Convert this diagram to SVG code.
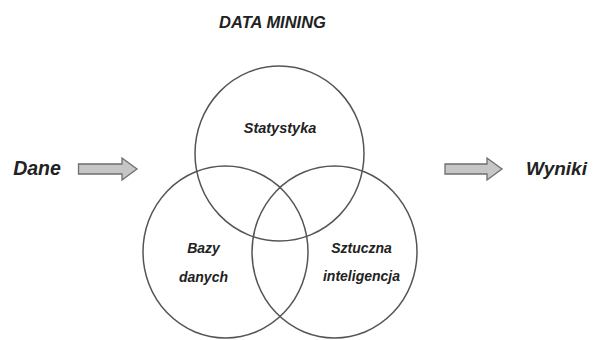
<svg xmlns="http://www.w3.org/2000/svg" width="593" height="340" viewBox="0 0 593 340">
  <style>
    .lbl { font-family: "Liberation Sans", Arial, sans-serif; font-weight: bold; font-style: italic; fill: #222; text-anchor: middle; }
    .set { fill: none; stroke: #555; stroke-width: 1.5; }
    .blk { fill: #c6c6c6; stroke: #6e6e6e; stroke-width: 1.3; stroke-linejoin: miter; }
  </style>
  <rect width="593" height="340" fill="#fff"/>
  <g id="title">
    <text class="lbl" x="272.5" y="28" font-size="16.5">DATA MINING</text>
  </g>
  <g id="dane">
    <text class="lbl" x="37" y="175" font-size="19.5">Dane</text>
  </g>
  <g id="wyniki">
    <text class="lbl" x="556.5" y="175" font-size="19">Wyniki</text>
  </g>
  <g id="statystyka">
    <ellipse class="set" cx="279.5" cy="153.5" rx="84.5" ry="87.5"/>
    <text class="lbl" x="280" y="133" font-size="14.5">Statystyka</text>
  </g>
  <g id="bazy-danych">
    <ellipse class="set" cx="225.5" cy="252" rx="82.5" ry="86"/>
    <text class="lbl" x="203.5" y="253" font-size="14">Bazy</text>
    <text class="lbl" x="203.5" y="281.5" font-size="14">danych</text>
  </g>
  <g id="sztuczna-inteligencja">
    <ellipse class="set" cx="334.5" cy="252" rx="82.5" ry="86"/>
    <text class="lbl" x="361.5" y="253" font-size="14">Sztuczna</text>
    <text class="lbl" x="361.5" y="281" font-size="14">inteligencja</text>
  </g>
  <g id="connectors">
    <path class="blk" d="M78.5,164 H122 V158 L137,169 L122,180 V174 H78.5 Z"/>
    <path class="blk" d="M445,164 H487 V158 L502,169 L487,180 V174 H445 Z"/>
  </g>
</svg>
